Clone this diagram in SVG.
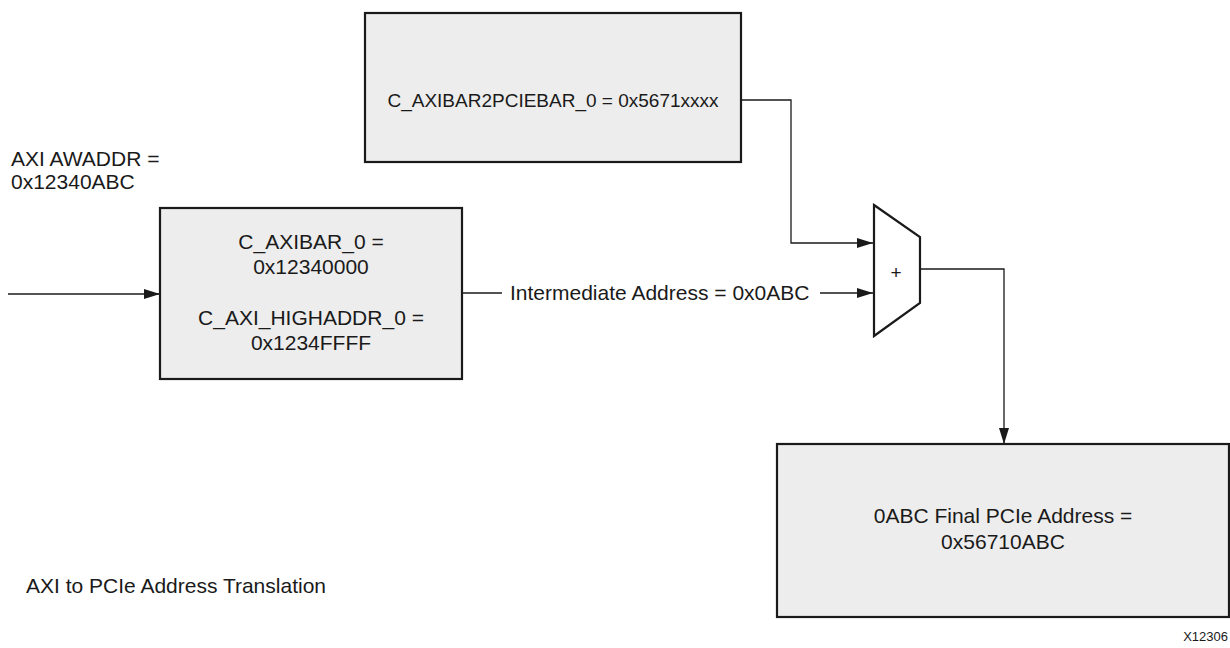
<svg xmlns="http://www.w3.org/2000/svg" width="1230" height="648" viewBox="0 0 1230 648">
<style>
.box{fill:#ededed;stroke:#1a1a1a;stroke-width:2.2}
.t{font-family:"Liberation Sans",Arial,sans-serif;font-size:21px;fill:#1a1a1a}
.c{text-anchor:middle}
.ln{fill:none;stroke:#1a1a1a;stroke-width:1.3}
</style>
<defs>
<marker id="ah" markerWidth="16" markerHeight="10" refX="16" refY="5" orient="auto" markerUnits="userSpaceOnUse">
<path d="M0,0 L16,5 L0,10 Z" fill="#1a1a1a"/>
</marker>
</defs>
<rect width="1230" height="648" fill="#ffffff"/>
<g id="connectors">
<path class="ln" d="M8,294 H160" marker-end="url(#ah)"/>
<path class="ln" d="M741,100 H791 V243 H873" marker-end="url(#ah)"/>
<path class="ln" d="M462,293 H502"/>
<path class="ln" d="M820,293 H873" marker-end="url(#ah)"/>
<path class="ln" d="M920,269 H1004 V444" marker-end="url(#ah)"/>
<text class="t" x="510" y="300">Intermediate Address = 0x0ABC</text>
</g>
<g id="node-bar2pcie">
<rect class="box" x="365" y="13" width="376" height="149"/>
<text class="t c" x="553" y="107" style="font-size:19px">C_AXIBAR2PCIEBAR_0 = 0x5671xxxx</text>
</g>
<g id="node-axibar">
<rect class="box" x="160" y="208" width="302" height="171"/>
<text class="t c" x="311" y="249">C_AXIBAR_0 =</text>
<text class="t c" x="311" y="274">0x12340000</text>
<text class="t c" x="311" y="325">C_AXI_HIGHADDR_0 =</text>
<text class="t c" x="311" y="350">0x1234FFFF</text>
</g>
<g id="node-adder">
<path d="M874,205 L920,237 L920,303 L874,336 Z" fill="#ffffff" stroke="#1a1a1a" stroke-width="2.2"/>
<text class="t c" x="896" y="279" style="font-size:19px">+</text>
</g>
<g id="node-final">
<rect class="box" x="777" y="444" width="452" height="173"/>
<text class="t c" x="1003" y="523">0ABC Final PCIe Address =</text>
<text class="t c" x="1003" y="549">0x56710ABC</text>
</g>
<g id="labels">
<text class="t" x="11" y="166">AXI AWADDR =</text>
<text class="t" x="11" y="189">0x12340ABC</text>
<text class="t" x="26" y="593">AXI to PCIe Address Translation</text>
<text class="t" x="1228" y="641" text-anchor="end" style="font-size:13px">X12306</text>
</g>
</svg>
